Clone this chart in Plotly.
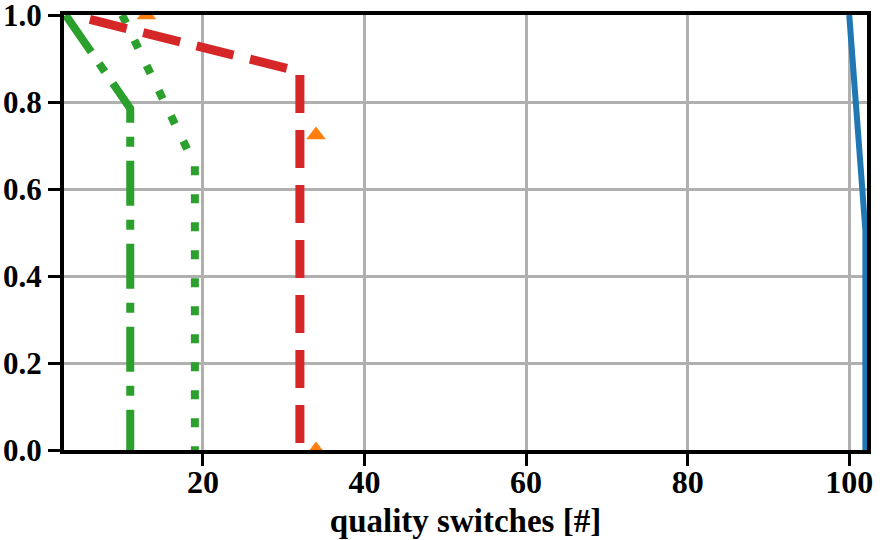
import plotly.graph_objects as go

# Data
blue_x = [100, 102, 102]
blue_y = [1.0, 0.505, 0.0]

orange_x = [13, 34, 34]
orange_y = [1.0, 0.724, 0.0]

green_dashdot_x = [3, 11, 11]
green_dashdot_y = [1.0, 0.785, 0.0]

green_dot_x = [10, 19, 19]
green_dot_y = [1.0, 0.655, 0.0]

red_x = [6, 32, 32]
red_y = [0.99, 0.87, 0.0]

x_ticks = [20, 40, 60, 80, 100]
y_ticks = [0.0, 0.2, 0.4, 0.6, 0.8, 1.0]
y_tick_text = ["0.0", "0.2", "0.4", "0.6", "0.8", "1.0"]

fig = go.Figure()
fig.add_trace(go.Scatter(x=blue_x, y=blue_y, mode="lines",
                         line=dict(color="#1f77b4", width=6)))
fig.add_trace(go.Scatter(x=orange_x, y=orange_y, mode="markers",
                         marker=dict(symbol="triangle-up", color="#ff7f0e", size=17, line=dict(width=0))))
fig.add_trace(go.Scatter(x=green_dashdot_x, y=green_dashdot_y, mode="lines",
                         line=dict(color="#2ca02c", width=8, dash="45px,14px,10px,14px")))
fig.add_trace(go.Scatter(x=green_dot_x, y=green_dot_y, mode="lines",
                         line=dict(color="#2ca02c", width=8, dash="9px,19px")))
fig.add_trace(go.Scatter(x=red_x, y=red_y, mode="lines",
                         line=dict(color="#d62728", width=9, dash="38px,17px")))

FAMILY = "Times New Roman, Liberation Serif, DejaVu Serif, serif"
font = dict(family=FAMILY, size=32, color="black", weight="bold")
yfont = dict(family=FAMILY, size=31, color="black", weight="bold")
title_font = dict(family=FAMILY, size=33, color="black", weight="bold")

fig.update_layout(
    width=884, height=540,
    margin=dict(l=64, r=17, t=15, b=90, autoexpand=False),
    paper_bgcolor="white", plot_bgcolor="white",
    showlegend=False,
    font=font,
)
fig.update_xaxes(
    range=[2.8, 102.2], tickvals=x_ticks, ticktext=[str(v) for v in x_ticks],
    showline=True, linecolor="black", linewidth=4, mirror=True,
    ticks="outside", ticklen=12, tickwidth=3, tickcolor="black",
    showgrid=True, gridcolor="#b0b0b0", gridwidth=3, zeroline=False,
    tickfont=font, automargin=False, ticklabelstandoff=-11,
    ticklabeloverflow="allow",
    title=dict(text="quality switches [#]", font=title_font, standoff=10),
)
fig.update_yaxes(
    range=[0, 1], tickvals=y_ticks, ticktext=y_tick_text,
    showline=True, linecolor="black", linewidth=4, mirror=True,
    ticks="outside", ticklen=12, tickwidth=3, tickcolor="black",
    showgrid=True, gridcolor="#b0b0b0", gridwidth=3, zeroline=False,
    tickfont=yfont, automargin=False, ticklabelstandoff=0,
    ticklabeloverflow="allow",
)
fig.write_html("out.html")
